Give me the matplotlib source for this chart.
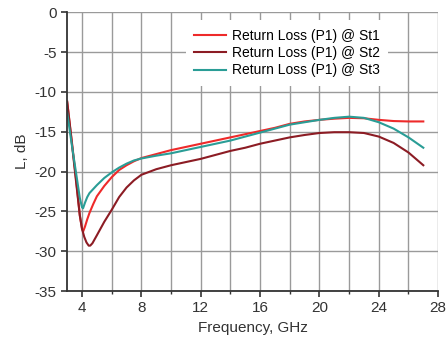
import matplotlib
matplotlib.use('Agg')
import matplotlib.pyplot as plt
from matplotlib.ticker import MultipleLocator

plt.rcParams['font.family'] = ['Liberation Sans', 'DejaVu Sans']
plt.rcParams['axes.unicode_minus'] = False

# St1 - frequency (GHz) / return loss (dB)
f1 = [3.0, 3.3, 3.6, 3.85, 4.0, 4.08, 4.2, 4.35, 4.5, 4.75, 5.0, 5.5, 6.0, 6.5, 7.0, 7.5,
      8, 9, 10, 11, 12, 13, 14, 15, 16, 17, 18, 19, 20, 21, 22, 23, 24, 25, 26, 27]
st1 = [-11.3, -16.0, -21.0, -25.5, -27.2, -27.5, -26.9, -26.0, -25.2, -24.1, -23.1, -21.8,
       -20.7, -19.8, -19.2, -18.7, -18.3, -17.8, -17.3, -16.9, -16.5, -16.1, -15.7, -15.3,
       -14.9, -14.5, -14.0, -13.7, -13.5, -13.35, -13.25, -13.3, -13.5, -13.65, -13.7, -13.7]

# St2
f2 = [3.0, 3.3, 3.6, 3.85, 4.0, 4.15, 4.3, 4.45, 4.55, 4.7, 5.0, 5.5, 6.0, 6.5, 7.0, 7.5,
      8, 9, 10, 11, 12, 13, 14, 15, 16, 17, 18, 19, 20, 21, 22, 23, 24, 25, 26, 27]
st2 = [-11.2, -16.2, -21.3, -25.5, -27.2, -28.2, -28.9, -29.3, -29.3, -29.0, -28.0, -26.3,
       -24.8, -23.2, -22.0, -21.1, -20.4, -19.7, -19.2, -18.8, -18.4, -17.9, -17.4, -17.0,
       -16.5, -16.1, -15.7, -15.4, -15.15, -15.05, -15.05, -15.15, -15.6, -16.4, -17.6, -19.2]

# St3
f3 = [3.0, 3.3, 3.6, 3.85, 4.0, 4.07, 4.2, 4.35, 4.5, 4.75, 5.0, 5.5, 6.0, 6.5, 7.0, 7.5,
      8, 9, 10, 11, 12, 13, 14, 15, 16, 17, 18, 19, 20, 21, 22, 23, 24, 25, 26, 27]
st3 = [-12.6, -16.5, -20.2, -23.3, -24.5, -24.6, -23.9, -23.2, -22.7, -22.2, -21.7, -20.8,
       -20.1, -19.5, -19.0, -18.6, -18.35, -18.0, -17.7, -17.3, -16.9, -16.5, -16.1, -15.6,
       -15.1, -14.6, -14.1, -13.8, -13.5, -13.25, -13.1, -13.25, -13.8, -14.6, -15.7, -17.0]

labels = ['Return Loss (P1) @ St1', 'Return Loss (P1) @ St2', 'Return Loss (P1) @ St3']
colors = ['#ee2a2a', '#8c1c24', '#2a9d96']

fig = plt.figure(figsize=(4.48, 3.44), dpi=100)
ax = fig.add_axes([0.150, 0.154, 0.828, 0.810])

for x, y, lab, c in zip([f1, f2, f3], [st1, st2, st3], labels, colors):
    ax.plot(x, y, color=c, lw=1.5, label=lab)

ax.set_xlim(3, 28)
ax.set_ylim(-35, 0)
ax.xaxis.set_major_locator(MultipleLocator(4))
ax.xaxis.set_minor_locator(MultipleLocator(2))
ax.yaxis.set_major_locator(MultipleLocator(5))

ax.grid(True, which='both', axis='x', color='#9a9a9a', lw=1.0)
ax.grid(True, which='major', axis='y', color='#9a9a9a', lw=1.0)
ax.set_axisbelow(True)

for s in ['top', 'right']:
    ax.spines[s].set_visible(False)
for s in ['left', 'bottom']:
    ax.spines[s].set_color('#333333')
    ax.spines[s].set_linewidth(1.3)

ax.tick_params(which='major', length=4, width=1.2, labelsize=11, colors='#333333')
ax.tick_params(which='minor', length=2.5, width=1.0, colors='#333333')

ax.set_xlabel('Frequency, GHz', fontsize=11, color='#333333', labelpad=4)
ax.set_ylabel('L, dB', fontsize=11, color='#333333', labelpad=4)

leg = ax.legend(loc='upper left', bbox_to_anchor=(0.32, 0.972), frameon=True, fontsize=10,
                handlelength=2.3, handletextpad=0.4, labelspacing=0.25, borderpad=0.6,
                borderaxespad=0)
leg.get_frame().set_facecolor('white')
leg.get_frame().set_edgecolor('none')
leg.get_frame().set_alpha(1)
leg.get_frame().set_boxstyle('square', pad=0)

fig.savefig('out.png', dpi=100)
